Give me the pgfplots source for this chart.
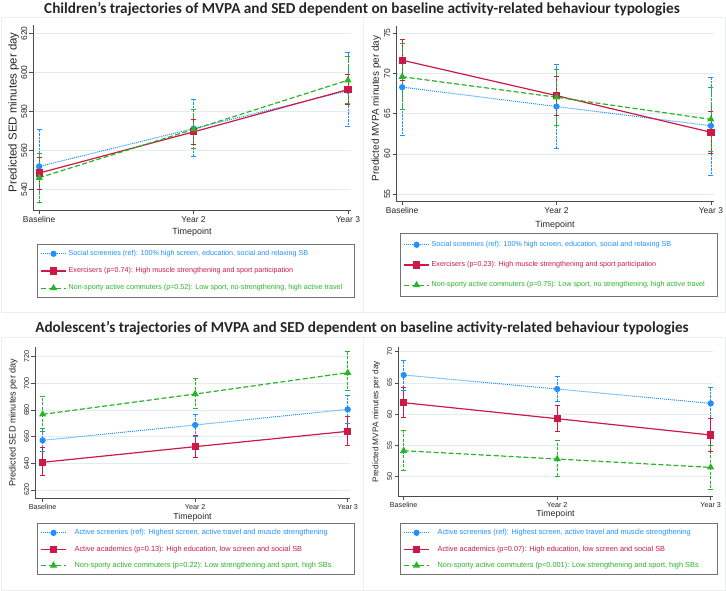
\documentclass[border=0pt]{standalone}
\usepackage{pgfplots}
\pgfplotsset{compat=1.18}
\usepackage{fontspec}
\setmainfont{Liberation Sans}
\newfontfamily\titlefont{Carlito}
\definecolor{cblue}{RGB}{30,144,255}
\definecolor{cred}{RGB}{205,25,70}
\definecolor{cgreen}{RGB}{40,180,40}
\definecolor{gridc}{RGB}{226,237,242}
\definecolor{framec}{RGB}{236,238,240}
\newcommand{\fs}[1]{\fontsize{#1}{#1}\selectfont}
\pgfplotsset{
 stata/.style={
  scale only axis,
  axis lines*=left,
  xmin=-0.04, xmax=2.02,
  xtick={0,1,2},
  xticklabels={Baseline,Year 2,Year 3},
  xlabel={Timepoint},
  ymajorgrids,
  grid style={gridc,line width=0.8bp},
  tick align=outside,
  major tick length=3.5bp,
  every tick/.style={black!70,line width=0.6bp},
  axis line style={black!70,line width=0.6bp},
  tick label style={text=black!85},
  /pgf/number format/assume math mode=true,
  yticklabel style={rotate=90,anchor=south,inner sep=2bp},
  xticklabel style={inner sep=2bp},
  label style={text=black!85},
  clip=false,
  legend cell align=left,
  legend style={draw=black!55, line width=0.9bp, fill=white, anchor=north west,
    inner xsep=3bp, inner ysep=4bp, font=\fs{7.2}},
  legend image code/.code={\draw[mark repeat=2,mark phase=2] plot coordinates {(0bp,0bp) (12.5bp,0bp) (25bp,0bp)};},
 },
 sBlue/.style={color=cblue, densely dotted, line width=1bp, mark=*, mark size=2.6bp, mark options={solid, draw=cblue, fill=cblue},
   /pgfplots/error bars/y dir=both, /pgfplots/error bars/y explicit,
   /pgfplots/error bars/error mark=none,
   /pgfplots/error bars/error bar style={draw=cblue, densely dotted, line width=0.8bp}},
 sRed/.style={color=cred, solid, line width=1.2bp, mark=square*, mark size=3bp, mark options={solid, draw=cred, fill=cred},
   /pgfplots/error bars/y dir=both, /pgfplots/error bars/y explicit,
   /pgfplots/error bars/error mark=none,
   /pgfplots/error bars/error bar style={draw=cred, solid, line width=0.8bp}},
 sGreen/.style={color=cgreen, dash pattern=on 5bp off 2.5bp, line width=1.2bp, mark=triangle*, mark size=3bp, mark options={solid, draw=cgreen, fill=cgreen},
   /pgfplots/error bars/y dir=both, /pgfplots/error bars/y explicit,
   /pgfplots/error bars/error mark=none,
   /pgfplots/error bars/error bar style={draw=cgreen, dash pattern=on 3bp off 1.5bp, line width=0.8bp}},
 cap/.style={forget plot, only marks, mark=-, mark size=2.5bp, color=#1, mark options={solid, draw=#1, line width=0.8bp}},
}
\begin{document}
\begin{tikzpicture}
% panel frames
\draw[framec, line width=0.8bp] (1bp,279bp) rectangle (363bp,574bp);
\draw[framec, line width=0.8bp] (363bp,279bp) rectangle (725bp,574bp);
\draw[framec, line width=0.8bp] (1bp,1bp) rectangle (363bp,254bp);
\draw[framec, line width=0.8bp] (363bp,1bp) rectangle (725bp,254bp);
% titles
\node[font=\titlefont\bfseries\fs{15.3}, text=black!85] at (362bp,582bp) {Children’s trajectories of MVPA and SED dependent on baseline activity-related behaviour typologies};
\node[font=\titlefont\bfseries\fs{15.3}, text=black!85] at (362bp,263bp) {Adolescent’s trajectories of MVPA and SED dependent on baseline activity-related behaviour typologies};

% ---------- Top-left: Children SED
\begin{axis}[stata, at={(33bp,380.5bp)}, anchor=south west, width=318bp, height=185.5bp,
  ymin=529.2, ymax=624.3, ytick={540,560,580,600,620},
  tick label style={font=\fs{8.5}},
  ylabel={Predicted SED minutes per day},
  ylabel style={font=\fs{11.5}, at={(axis description cs:-0.061,0.53)}, anchor=center, rotate=0},
  xlabel style={font=\fs{9}, at={(axis description cs:0.5,-0.1186)}, anchor=center},
  legend style={at={(0.0126,-0.1806)}, row sep=6.5bp}]
\addplot[sBlue] coordinates {(0,551.8) += (0,19.0) -= (0,18.6) (1,571.2) += (0,15.1) -= (0,14.2) (2,590.6) += (0,19.5) -= (0,18.2)};
\addlegendentry{\makebox[281bp][l]{\textcolor{cblue}{Social screenies (ref): 100\% high screen, education, social and relaxing SB}}}
\addplot[sRed] coordinates {(0,548.4) += (0,8.0) -= (0,8.2) (1,569.5) += (0,6.6) -= (0,6.4) (2,591.2) += (0,7.9) -= (0,7.7)};
\addlegendentry{\textcolor{cred}{Exercisers (p=0.74): High muscle strengthening and sport participation}}
\addplot[sGreen] coordinates {(0,546.0) += (0,12.7) -= (0,12.5) (1,570.8) += (0,10.0) -= (0,9.9) (2,596.0) += (0,12.4) -= (0,12.0)};
\addlegendentry{\textcolor{cgreen}{Non-sporty active commuters (p=0.52): Low sport, no-strengthening, high active travel}}
\addplot[cap=cblue] coordinates {(0,570.8) (0,533.2) (1,586.3) (1,557.0) (2,610.1) (2,572.4)};
\addplot[cap=cred] coordinates {(0,556.4) (0,540.2) (1,576.1) (1,563.1) (2,599.1) (2,583.5)};
\addplot[cap=cgreen] coordinates {(0,558.7) (0,533.5) (1,580.8) (1,560.9) (2,608.4) (2,584.0)};
\end{axis}

% ---------- Top-right: Children MVPA
\begin{axis}[stata, at={(396bp,389.5bp)}, anchor=south west, width=318bp, height=175.5bp,
  ymin=54.1, ymax=75.9, ytick={55,60,65,70,75},
  tick label style={font=\fs{8.5}},
  ylabel={Predicted MVPA minutes per day},
  ylabel style={font=\fs{10}, at={(axis description cs:-0.062,0.53)}, anchor=center, rotate=0},
  xlabel style={font=\fs{9}, at={(axis description cs:0.5,-0.134)}, anchor=center},
  legend style={at={(0.0126,-0.1795)}, row sep=9.5bp, inner ysep=6bp}]
\addplot[sBlue] coordinates {(0,68.3) += (0,5.95) -= (0,6.05) (1,65.9) += (0,5.2) -= (0,5.2) (2,63.5) += (0,6.0) -= (0,6.1)};
\addlegendentry{\makebox[281bp][l]{\textcolor{cblue}{Social screenies (ref): 100\% high screen, education, social and relaxing SB}}}
\addplot[sRed] coordinates {(0,71.65) += (0,2.6) -= (0,2.55) (1,67.25) += (0,2.35) -= (0,2.4) (2,62.7) += (0,2.65) -= (0,2.6)};
\addlegendentry{\textcolor{cred}{Exercisers (p=0.23): High muscle strengthening and sport participation}}
\addplot[sGreen] coordinates {(0,69.6) += (0,4.2) -= (0,4.0) (1,67.05) += (0,3.45) -= (0,3.55) (2,64.3) += (0,4.0) -= (0,4.0)};
\addlegendentry{\textcolor{cgreen}{Non-sporty active commuters (p=0.75): Low sport, no strengthening, high active travel}}
\addplot[cap=cblue] coordinates {(0,74.25) (0,62.25) (1,71.1) (1,60.7) (2,69.5) (2,57.4)};
\addplot[cap=cred] coordinates {(0,74.25) (0,69.1) (1,69.6) (1,64.85) (2,65.35) (2,60.1)};
\addplot[cap=cgreen] coordinates {(0,73.8) (0,65.6) (1,70.5) (1,63.5) (2,68.3) (2,60.3)};
\end{axis}

% ---------- Bottom-left: Adolescent SED
\begin{axis}[stata, at={(35bp,92.7bp)}, anchor=south west, width=315bp, height=151.6bp,
  xmin=-0.05, xmax=2.015,
  ymin=613.75, ymax=727.5, ytick={620,640,660,680,700,720},
  tick label style={font=\fs{7.2}},
  ylabel={Predicted SED minutes per day},
  ylabel style={font=\fs{9.2}, at={(axis description cs:-0.069,0.5)}, anchor=center, rotate=0},
  xlabel style={font=\fs{8.8}, at={(axis description cs:0.5,-0.123)}, anchor=center},
  legend style={at={(0.0063,-0.163)}, row sep=5.5bp, font=\fs{7.4}}]
\addplot[sBlue] coordinates {(0,657.25) += (0,9) -= (0,8.5) (1,668.75) += (0,8.25) -= (0,8.75) (2,680.5) += (0,10.75) -= (0,10.5)};
\addlegendentry{\makebox[281bp][l]{\hspace{6bp}\textcolor{cblue}{Active screenies (ref): Highest screen, active travel and muscle strengthening}}}
\addplot[sRed] coordinates {(0,640.75) += (0,11) -= (0,10) (1,652.5) += (0,8.25) -= (0,8.25) (2,664) += (0,11) -= (0,10.75)};
\addlegendentry{\hspace{6bp}\textcolor{cred}{Active academics (p=0.13): High education, low screen and social SB}}
\addplot[sGreen] coordinates {(0,676.75) += (0,13.25) -= (0,13) (1,692) += (0,11.75) -= (0,10.75) (2,708) += (0,15.75) -= (0,13)};
\addlegendentry{\hspace{6bp}\textcolor{cgreen}{Non-sporty active commuters (p=0.22): Low strengthening and sport, high SBs}}
\addplot[cap=cblue] coordinates {(0,666.25) (0,648.75) (1,677) (1,660) (2,691.25) (2,670)};
\addplot[cap=cred] coordinates {(0,651.75) (0,630.75) (1,660.75) (1,644.25) (2,675) (2,653.25)};
\addplot[cap=cgreen] coordinates {(0,690) (0,663.75) (1,703.75) (1,681.25) (2,723.75) (2,695)};
\end{axis}

% ---------- Bottom-right: Adolescent MVPA
\begin{axis}[stata, at={(398bp,94.3bp)}, anchor=south west, width=315bp, height=150bp,
  xmin=-0.037, xmax=2.015,
  ymin=46.8, ymax=70.8, ytick={50,55,60,65,70},
  tick label style={font=\fs{7.2}},
  ylabel={Predicted MVPA minutes per day},
  ylabel style={font=\fs{8.3}, at={(axis description cs:-0.069,0.5)}, anchor=center, rotate=0},
  xlabel style={font=\fs{8.8}, at={(axis description cs:0.5,-0.117)}, anchor=center},
  legend style={at={(0.0063,-0.175)}, row sep=5.5bp, font=\fs{7.4}}]
\addplot[sBlue] coordinates {(0,66.27) += (0,2.3) -= (0,2.4) (1,64.03) += (0,2.07) -= (0,1.93) (2,61.73) += (0,2.57) -= (0,2.43)};
\addlegendentry{\makebox[281bp][l]{\hspace{6bp}\textcolor{cblue}{Active screenies (ref): Highest screen, active travel and muscle strengthening}}}
\addplot[sRed] coordinates {(0,61.84) += (0,2.46) -= (0,2.4) (1,59.28) += (0,2.13) -= (0,2.08) (2,56.67) += (0,2.61) -= (0,2.57)};
\addlegendentry{\hspace{6bp}\textcolor{cred}{Active academics (p=0.07): High education, low screen and social SB}}
\addplot[sGreen] coordinates {(0,54.16) += (0,3.31) -= (0,3.2) (1,52.83) += (0,3.04) -= (0,2.83) (2,51.49) += (0,3.58) -= (0,3.52)};
\addlegendentry{\hspace{6bp}\textcolor{cgreen}{Non-sporty active commuters (p<0.001): Low strengthening and sport, high SBs}}
\addplot[cap=cblue] coordinates {(0,68.56) (0,63.87) (1,66.1) (1,62.1) (2,64.3) (2,59.3)};
\addplot[cap=cred] coordinates {(0,64.3) (0,59.44) (1,61.41) (1,57.2) (2,59.28) (2,54.1)};
\addplot[cap=cgreen] coordinates {(0,57.47) (0,50.96) (1,55.87) (1,50.0) (2,55.07) (2,47.97)};
\end{axis}
\pgfresetboundingbox
\path (0bp,0bp) rectangle (726bp,591bp);
\end{tikzpicture}
\end{document}
